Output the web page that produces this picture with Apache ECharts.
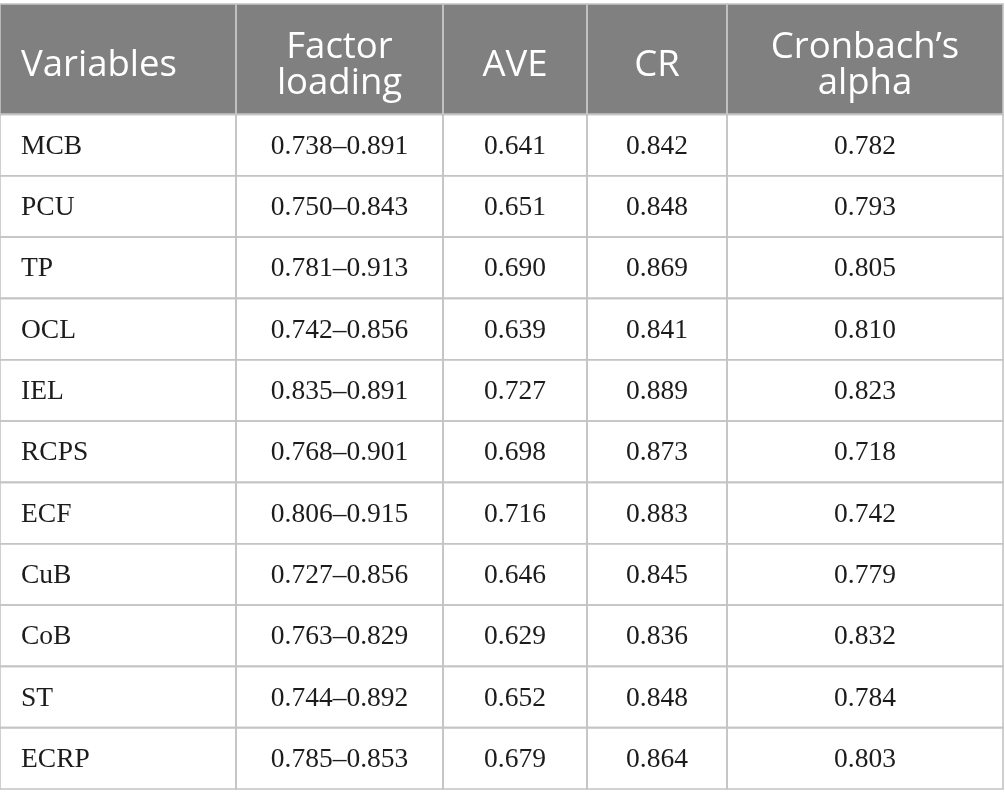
<!DOCTYPE html>
<html>
<head>
<meta charset="utf-8">
<script src="https://cdn.jsdelivr.net/npm/echarts@6/dist/echarts.min.js"></script>
<style>
html,body{margin:0;padding:0;background:#fff;}
#chart{width:1005px;height:808px;}
</style>
</head>
<body>
<div id="chart"></div>
<script>
// ---- data ----
const headers = ['Variables', 'Factor\nloading', 'AVE', 'CR', 'Cronbach\u2019s\nalpha'];
const variables = ['MCB', 'PCU', 'TP', 'OCL', 'IEL', 'RCPS', 'ECF', 'CuB', 'CoB', 'ST', 'ECRP'];
const loadingMin = [0.738, 0.750, 0.781, 0.742, 0.835, 0.768, 0.806, 0.727, 0.763, 0.744, 0.785];
const loadingMax = [0.891, 0.843, 0.913, 0.856, 0.891, 0.901, 0.915, 0.856, 0.829, 0.892, 0.853];
const ave = [0.641, 0.651, 0.690, 0.639, 0.727, 0.698, 0.716, 0.646, 0.629, 0.652, 0.679];
const cr = [0.842, 0.848, 0.869, 0.841, 0.889, 0.873, 0.883, 0.845, 0.836, 0.848, 0.864];
const alpha = [0.782, 0.793, 0.805, 0.810, 0.823, 0.718, 0.742, 0.779, 0.832, 0.784, 0.803];

// ---- layout (not data) ----
const colEdges = [0, 236, 443, 587, 727, 1003];
const HEADER_UNITS = 1.8;
const TOTAL_UNITS = HEADER_UNITS + variables.length;

const cells = [];
headers.forEach((h, c) => cells.push([c, 0, h]));
variables.forEach((v, i) => {
  const r = i + 1;
  cells.push([0, r, v]);
  cells.push([1, r, loadingMin[i].toFixed(3) + '\u2013' + loadingMax[i].toFixed(3)]);
  cells.push([2, r, ave[i].toFixed(3)]);
  cells.push([3, r, cr[i].toFixed(3)]);
  cells.push([4, r, alpha[i].toFixed(3)]);
});

function renderItem(params, api) {
  const c = api.value(0);
  const r = api.value(1);
  const text = cells[params.dataIndex][2];
  const y0 = r === 0 ? 0 : HEADER_UNITS + r - 1;
  const y1 = r === 0 ? HEADER_UNITS : HEADER_UNITS + r;
  const p0 = api.coord([colEdges[c], y0]);
  const p1 = api.coord([colEdges[c + 1], y1]);
  const w = p1[0] - p0[0];
  const h = p1[1] - p0[1];
  const isHeader = r === 0;
  const leftAlign = c === 0;
  return {
    type: 'group',
    children: [
      {
        type: 'rect',
        shape: { x: p0[0], y: p0[1], width: w, height: h },
        style: { fill: isHeader ? '#7f807f' : '#ffffff' },
        z2: 0
      },
      {
        type: 'rect',
        shape: { x: p0[0], y: p0[1], width: w, height: h },
        style: { fill: null, stroke: '#c4c4c4', lineWidth: 1.6 },
        z2: 5
      },
      {
        type: 'text',
        x: leftAlign ? p0[0] + 21 : p0[0] + w / 2,
        y: p0[1] + h / 2 + (isHeader ? 6 : 1.5),
        style: {
          text: text,
          fill: isHeader ? '#ffffff' : '#1c1c1c',
          fontFamily: isHeader ? 'Open Sans' : 'Liberation Serif',
          fontSize: isHeader ? 36.5 : 27.5,
          lineHeight: isHeader ? 36 : 30,
          align: leftAlign ? 'left' : 'center',
          verticalAlign: 'middle'
        },
        z2: 10
      }
    ]
  };
}

const chart = echarts.init(document.getElementById('chart'), null, { renderer: 'canvas' });
chart.setOption({
  animation: false,
  backgroundColor: '#ffffff',
  grid: { left: 0, right: 2, top: 4, bottom: 19 },
  xAxis: { type: 'value', min: 0, max: colEdges[colEdges.length - 1], show: false },
  yAxis: { type: 'value', min: 0, max: TOTAL_UNITS, inverse: true, show: false },
  series: [{
    type: 'custom',
    renderItem: renderItem,
    data: cells.map(d => [d[0], d[1]]),
    clip: false
  }]
});
</script>
</body>
</html>
